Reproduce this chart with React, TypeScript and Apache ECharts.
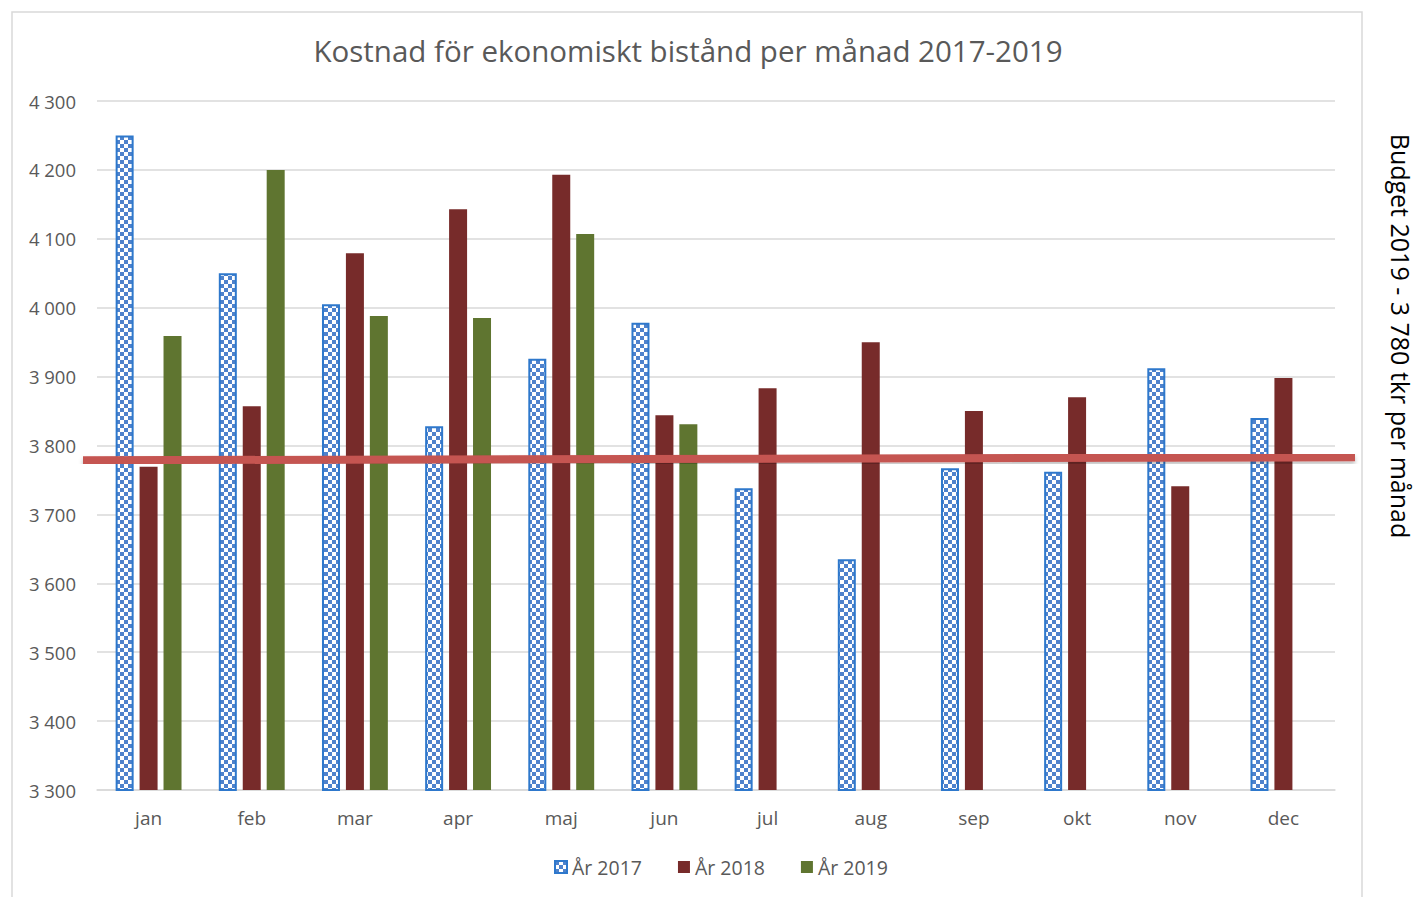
import React, { useEffect, useRef } from "react";
import * as echarts from "echarts";

const months = ["jan", "feb", "mar", "apr", "maj", "jun", "jul", "aug", "sep", "okt", "nov", "dec"];
const y2017 = [4250, 4050, 4005, 3828, 3926, 3978, 3738, 3635, 3767, 3762, 3912, 3840];
const y2018 = [3769, 3857, 4079, 4143, 4193, 3844, 3883, 3950, 3850, 3870, 3741, 3898];
const y2019 = [3959, 4200, 3988, 3985, 4107, 3831];
const budget = 3780;
const yMin = 3300;
const yMax = 4300;
const yStep = 100;

function makePattern(): HTMLCanvasElement {
  const c = document.createElement("canvas");
  c.width = 8;
  c.height = 8;
  const ctx = c.getContext("2d")!;
  ctx.fillStyle = "#ffffff";
  ctx.fillRect(0, 0, 8, 8);
  ctx.fillStyle = "#4F82CC";
  ctx.fillRect(0, 0, 4, 4);
  ctx.fillRect(4, 4, 4, 4);
  return c;
}

export default function App() {
  const ref = useRef<HTMLDivElement>(null);
  useEffect(() => {
    document.body.style.margin = "0";
    const chart = echarts.init(ref.current!, undefined, { renderer: "svg" });
    const font = "'Open Sans', 'Noto Sans', sans-serif";
    const pattern = makePattern();
    chart.setOption({
      animation: false,
      backgroundColor: "#ffffff",
      title: {
        text: "Kostnad för ekonomiskt bistånd per månad 2017-2019",
        left: 683,
        top: 45,
        textAlign: "center",
        textVerticalAlign: "middle",
        textStyle: { fontFamily: font, fontSize: 29.5, fontWeight: "normal", color: "#595959" },
      },
      grid: { left: 97, right: 84, top: 101, bottom: 107 },
      legend: {
        bottom: 15,
        left: 549,
        itemWidth: 12,
        itemHeight: 12,
        itemGap: 36,
        icon: "rect",
        textStyle: { fontFamily: font, fontSize: 19.5, color: "#595959" },
        data: ["År 2017", "År 2018", "År 2019"],
      },
      xAxis: {
        type: "category",
        data: months,
        axisLine: { lineStyle: { color: "#D9D9D9", width: 1.5 } },
        axisTick: { show: false },
        axisLabel: { fontFamily: font, fontSize: 19, color: "#595959", margin: 18 },
      },
      yAxis: {
        type: "value",
        min: yMin,
        max: yMax,
        interval: yStep,
        axisLine: { show: false },
        axisTick: { show: false },
        splitLine: { lineStyle: { color: "#D9D9D9", width: 1.5 } },
        axisLabel: {
          fontFamily: font,
          fontSize: 18.5,
          color: "#595959",
          margin: 21,
          formatter: (v: number) => String(v).replace(/\B(?=(\d{3})+(?!\d))/g, " "),
        },
      },
      series: [
        {
          name: "År 2017",
          type: "bar",
          data: y2017,
          barWidth: 18,
          barGap: "33%",
          itemStyle: { color: { image: pattern, repeat: "repeat" }, borderColor: "#2E78CC", borderWidth: 2 },
        },
        {
          name: "År 2018",
          type: "bar",
          data: y2018,
          barWidth: 18,
          barGap: "33%",
          itemStyle: { color: "#772B2A" },
        },
        {
          name: "År 2019",
          type: "bar",
          data: y2019,
          barWidth: 18,
          barGap: "33%",
          itemStyle: { color: "#5F7530" },
        },
      ],
    });
    const yb = chart.convertToPixel({ yAxisIndex: 0 }, budget) as number;
    chart.setOption({
      graphic: [
        {
          type: "rect",
          shape: { x: 12, y: 12, width: 1350, height: 900 },
          style: { fill: "none", stroke: "#D9D9D9", lineWidth: 1.5 },
          silent: true,
          z: 0,
        },
        {
          type: "line",
          shape: { x1: 83, y1: yb + 1, x2: 1355, y2: yb - 2 },
          style: {
            stroke: "#C55451",
            lineWidth: 8,
            shadowBlur: 4,
            shadowOffsetY: 3,
            shadowColor: "rgba(0,0,0,0.25)",
          },
          z: 100,
        },
        {
          type: "text",
          x: 1401,
          y: 336,
          rotation: -Math.PI / 2,
          style: {
            text: "Budget 2019 - 3 780 tkr per månad",
            fontFamily: font,
            fontSize: 25,
            lineHeight: 26,
            fill: "#000000",
            align: "center",
            verticalAlign: "middle",
          },
          z: 100,
        },
      ],
    });
    return () => chart.dispose();
  }, []);
  return <div ref={ref} style={{ position: "fixed", left: 0, top: 0, width: 1419, height: 897 }} />;
}
